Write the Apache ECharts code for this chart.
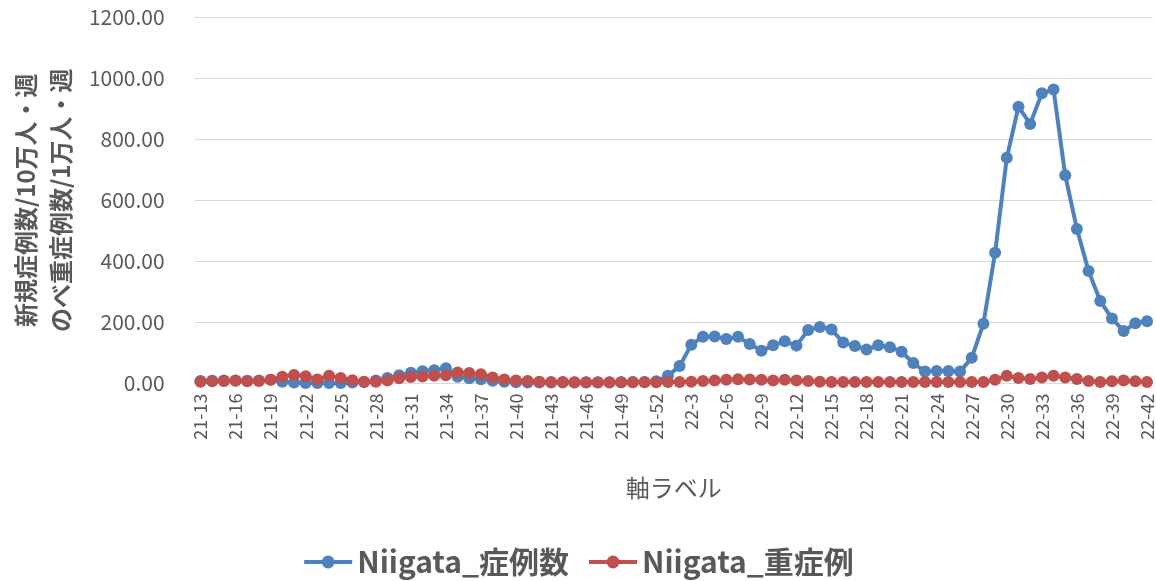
<!DOCTYPE html>
<html>
<head>
<meta charset="utf-8">
<script src="https://cdn.jsdelivr.net/npm/echarts@6/dist/echarts.min.js"></script>
<style>
  html, body { margin: 0; padding: 0; background: #fff; }
  #chart { width: 1156px; height: 581px; }
</style>
</head>
<body>
<div id="chart"></div>
<script>
// Week labels: 2021 weeks 13-52, then 2022 weeks 1-42
const weeks2021 = [];
for (let w = 13; w <= 52; w++) weeks2021.push('21-' + w);
const weeks2022 = [];
for (let w = 1; w <= 42; w++) weeks2022.push('22-' + w);
const categories = weeks2021.concat(weeks2022);

// New cases per 100k per week
const casesNiigata = [
  8, 9, 10, 10, 9, 10, 12,
  6, 3, 2, 2, 2, 2, 3, 5,
  10, 18, 27, 35, 40, 43, 50,
  22, 17, 14, 9, 6, 4,
  3, 3, 3, 3, 3, 3, 3, 3, 4, 5, 5,
  7,
  25, 57, 127, 153, 154, 146, 153, 129, 107, 125, 138, 124, 175, 185, 177,
  134, 123, 111, 125, 119, 104, 67, 39, 41, 41, 39, 84, 196, 428, 739,
  906, 850, 950, 963, 682, 506, 368, 270, 213, 172, 197, 204
];

// Severe cases per 10k per week
const severeNiigata = [
  6, 7, 8, 9, 7, 8, 12,
  22, 28, 24, 13, 25, 18, 11, 6,
  6, 10, 17, 21, 23, 25, 27,
  36, 34, 30, 20, 13, 10,
  8, 6, 5, 5, 4, 4, 4, 4, 4, 4, 4, 4,
  5, 5, 6, 8, 10, 12, 14, 13, 12, 10, 12, 10, 8, 6, 5, 5,
  5, 5, 5, 5, 5, 5, 5, 5, 5, 5, 5, 5,
  12, 25, 18, 15, 20, 25, 20, 15, 8, 5, 7, 10, 7, 5
];

const seriesNames = ['Niigata_症例数', 'Niigata_重症例'];
const yTicks = { min: 0, max: 1200, interval: 200 };

const FONT = '"Noto Sans CJK JP", "Noto Sans", sans-serif';
const GREY = '#595959';

const chart = echarts.init(document.getElementById('chart'), null, { renderer: 'canvas' });

chart.setOption({
  animation: false,
  textStyle: { fontFamily: FONT },
  grid: { left: 193, right: 3, top: 17, bottom: 197.5, containLabel: false },
  legend: {
    bottom: -1,
    left: 'center',
    itemWidth: 48,
    itemHeight: 16,
    itemGap: 18,
    lineStyle: { width: 4 },
    textStyle: { fontFamily: FONT, fontSize: 30, fontWeight: 'bold', color: GREY },
    data: seriesNames
  },
  xAxis: {
    type: 'category',
    data: categories,
    boundaryGap: true,
    name: '軸ラベル',
    nameLocation: 'middle',
    nameGap: 92,
    nameTextStyle: { fontFamily: FONT, fontSize: 24, color: GREY },
    axisLine: { show: true, lineStyle: { color: '#d9d9d9', width: 1 } },
    axisTick: { show: false },
    axisLabel: {
      interval: 2,
      rotate: 90,
      margin: 10,
      fontFamily: FONT,
      fontSize: 18,
      color: GREY
    }
  },
  yAxis: {
    type: 'value',
    min: yTicks.min,
    max: yTicks.max,
    interval: yTicks.interval,
    name: '新規症例数/10万人・週\nのべ重症例数/1万人・週',
    nameLocation: 'middle',
    nameRotate: 90,
    nameGap: 115,
    nameTextStyle: { fontFamily: FONT, fontSize: 24, fontWeight: 'bold', color: GREY, lineHeight: 35 },
    axisLine: { show: false },
    axisTick: { show: false },
    splitLine: { lineStyle: { color: '#d9d9d9', width: 1 } },
    axisLabel: {
      margin: 30,
      fontFamily: FONT,
      fontSize: 21,
      color: GREY,
      formatter: v => v.toFixed(2)
    }
  },
  series: [
    {
      name: seriesNames[0],
      type: 'line',
      data: casesNiigata,
      symbol: 'circle',
      symbolSize: 12,
      showAllSymbol: true,
      lineStyle: { color: '#4F81BD', width: 4 },
      itemStyle: { color: '#4F81BD' },
      z: 2
    },
    {
      name: seriesNames[1],
      type: 'line',
      data: severeNiigata,
      symbol: 'circle',
      symbolSize: 12,
      showAllSymbol: true,
      lineStyle: { color: '#C0504D', width: 4 },
      itemStyle: { color: '#C0504D' },
      z: 3
    }
  ]
});
</script>
</body>
</html>
